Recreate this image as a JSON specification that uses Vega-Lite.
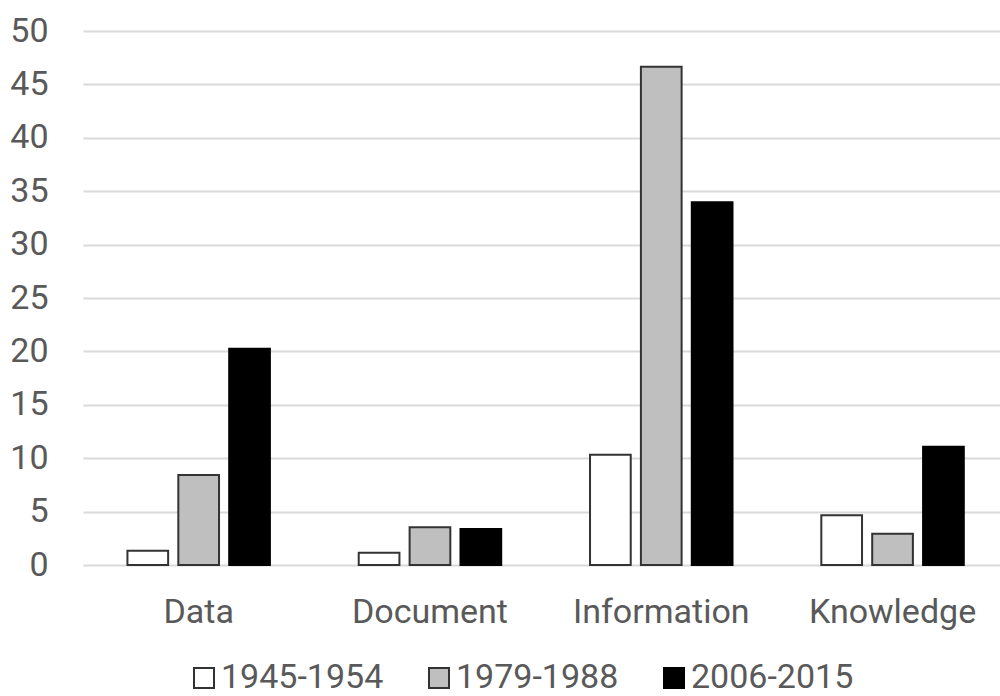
{
  "$schema": "https://vega.github.io/schema/vega-lite/v6.json",
  "autosize": {"type": "none"},
  "width": 917,
  "height": 534,
  "padding": {"left": 83, "top": 31, "right": 0, "bottom": 131},
  "background": "white",
  "config": {
    "view": {"stroke": null},
    "font": "Roboto",
    "axis": {"labelFont": "Roboto", "labelFontSize": 34, "labelColor": "#595959", "titleFont": "Roboto"},
    "legend": {"labelFont": "Roboto", "labelFontSize": 34, "labelColor": "#595959"}
  },
  "data": {
    "values": [
      {"term": "Data", "period": "1945-1954", "value": 1.34},
      {"term": "Data", "period": "1979-1988", "value": 8.43},
      {"term": "Data", "period": "2006-2015", "value": 20.25},
      {"term": "Document", "period": "1945-1954", "value": 1.15},
      {"term": "Document", "period": "1979-1988", "value": 3.53},
      {"term": "Document", "period": "2006-2015", "value": 3.37},
      {"term": "Information", "period": "1945-1954", "value": 10.33},
      {"term": "Information", "period": "1979-1988", "value": 46.66},
      {"term": "Information", "period": "2006-2015", "value": 33.96},
      {"term": "Knowledge", "period": "1945-1954", "value": 4.65},
      {"term": "Knowledge", "period": "1979-1988", "value": 2.93},
      {"term": "Knowledge", "period": "2006-2015", "value": 11.08}
    ]
  },
  "mark": {"type": "bar", "strokeWidth": 2},
  "encoding": {
    "x": {
      "field": "term",
      "type": "nominal",
      "sort": null,
      "scale": {"paddingInner": 0.384, "paddingOuter": 0.1743, "align": 0.551},
      "axis": {"title": null, "labelAngle": 0, "ticks": false, "domain": false, "labelPadding": 30, "grid": false}
    },
    "xOffset": {
      "field": "period",
      "type": "nominal",
      "sort": null,
      "scale": {"paddingInner": 0.2, "paddingOuter": 0}
    },
    "y": {
      "field": "value",
      "type": "quantitative",
      "scale": {"domain": [0, 50], "nice": false},
      "axis": {
        "title": null,
        "values": [0, 5, 10, 15, 20, 25, 30, 35, 40, 45, 50],
        "ticks": false,
        "domain": false,
        "labelPadding": 35,
        "grid": true,
        "gridColor": "#d9d9d9",
        "gridWidth": 2
      }
    },
    "fill": {
      "field": "period",
      "type": "nominal",
      "sort": null,
      "scale": {"domain": ["1945-1954", "1979-1988", "2006-2015"], "range": ["#ffffff", "#bfbfbf", "#000000"]},
      "legend": {
        "title": null,
        "orient": "none",
        "direction": "horizontal",
        "legendX": 104,
        "legendY": 630,
        "symbolType": "square",
        "symbolSize": 400,
        "symbolStrokeWidth": 2,
        "labelOffset": 0,
        "columnPadding": 38,
        "labelLimit": 400
      }
    },
    "stroke": {
      "field": "period",
      "type": "nominal",
      "sort": null,
      "scale": {"domain": ["1945-1954", "1979-1988", "2006-2015"], "range": ["#333333", "#333333", "#000000"]},
      "legend": null
    }
  }
}
